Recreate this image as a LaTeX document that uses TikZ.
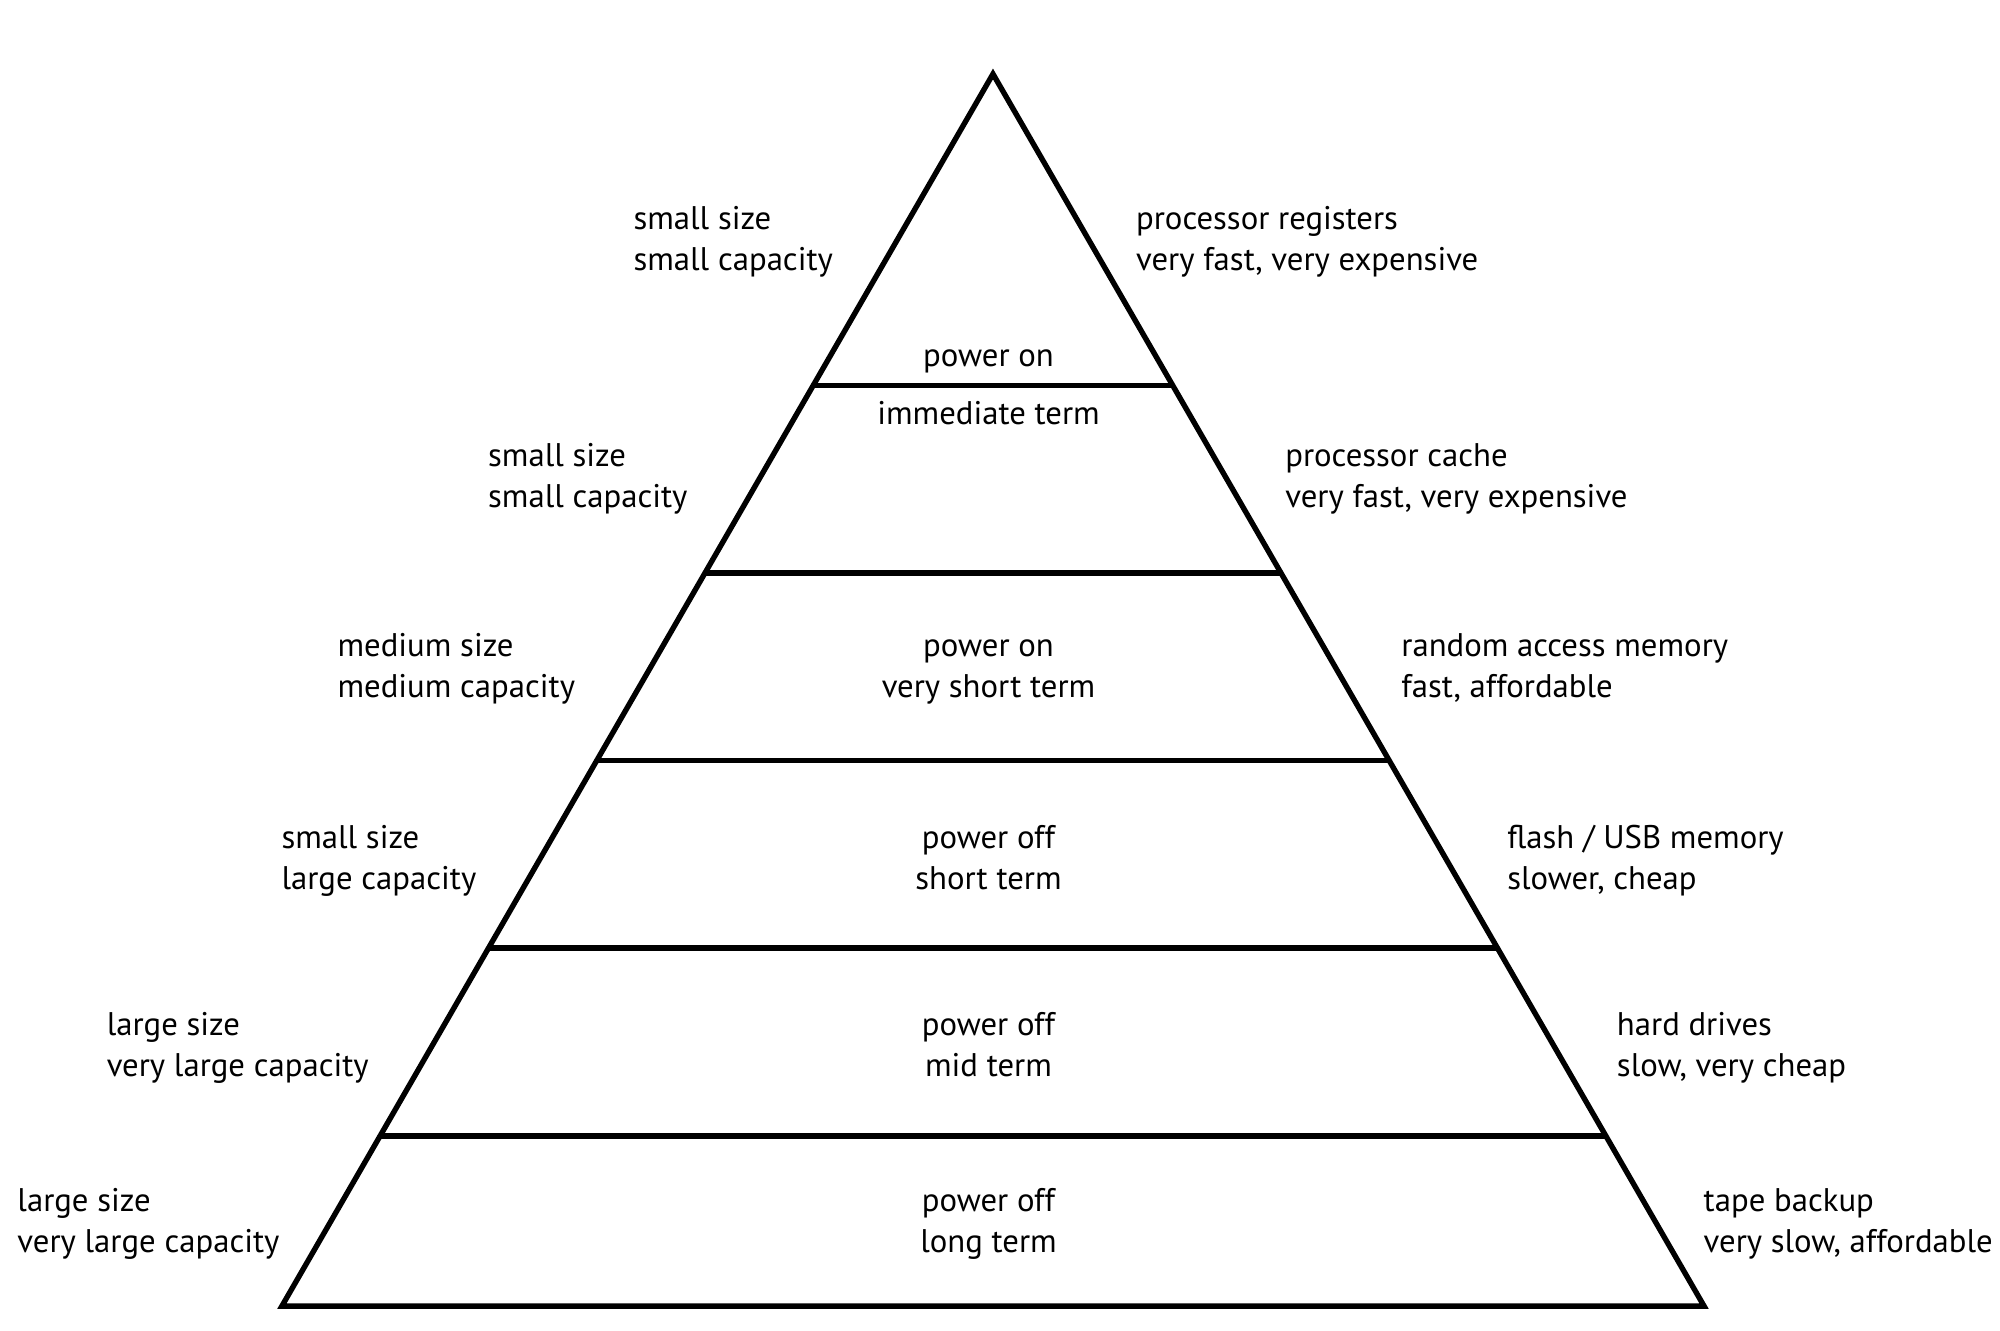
\documentclass[tikz,border=0pt]{standalone}
\usepackage{fontspec}
\setmainfont{PT Sans}
\usetikzlibrary{calc}
\begin{document}
\begin{tikzpicture}[x=0.01cm,y=-0.01cm,
    every node/.style={inner sep=0pt,font=\fontsize{7.3}{9.1}\selectfont},
    side/.style={anchor=base west,align=left},
    mid/.style={anchor=base,align=center},
    edge/.style={line width=1.2pt,line join=miter}]
  \useasboundingbox (0,0) rectangle (1568,1043);
  \coordinate (top) at (778.5,58);
  \coordinate (bl) at (221,1024);
  \coordinate (br) at (1336,1024);
  \draw[edge] (top) -- (bl) -- (br) -- cycle;
  \foreach \t [count=\i] in {0.2526,0.4049,0.5572,0.7095,0.8618}{
    \path ($(top)!\t!(bl)$) coordinate (l\i) ($(top)!\t!(br)$) coordinate (r\i);
    \draw[edge] (l\i) -- (r\i);
  }
  % left side (y = baseline of the second line)
  \node[side] (sa) at (496,212) {small size\\small capacity};
  \node[side] (sb) at (382,398) {small size\\small capacity};
  \node[side] (sc) at (264,547) {medium size\\medium capacity};
  \node[side] (sd) at (220,697) {small size\\large capacity};
  \node[side] (se) at (83,844) {large size\\very large capacity};
  \node[side] (sf) at (13,982) {large size\\very large capacity};
  % right side
  \node[side] (regs) at (890,212) {processor registers\\very fast, very expensive};
  \node[side] (cache) at (1007,398) {processor cache\\very fast, very expensive};
  \node[side] (ram) at (1098,547) {random access memory\\fast, affordable};
  \node[side] (flash) at (1181,697) {flash / USB memory\\slower, cheap};
  \node[side] (hdd) at (1267,844) {hard drives\\slow, very cheap};
  \node[side] (tape) at (1335,982) {tape backup\\very slow, affordable};
  % middle
  \node[mid] (on) at (775,287) {power on};
  \node[mid] (imm) at (775,333) {immediate term};
  \node[mid] (vst) at (775,547) {power on\\very short term};
  \node[mid] (st) at (775,697) {power off\\short term};
  \node[mid] (mt) at (775,844) {power off\\mid term};
  \node[mid] (lt) at (775,982) {power off\\long term};
\end{tikzpicture}
\end{document}
